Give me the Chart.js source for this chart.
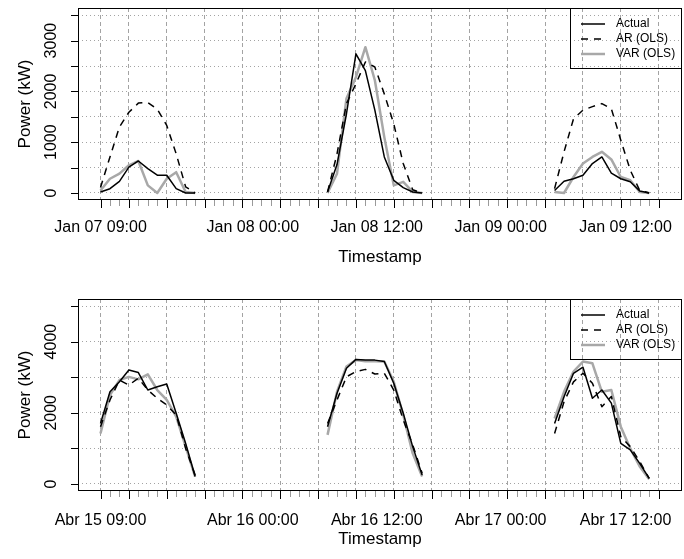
<!DOCTYPE html>
<html>
<head>
<meta charset="utf-8">
<script src="https://cdn.jsdelivr.net/npm/chart.js@4.4.1/dist/chart.umd.min.js"></script>
<style>
  body { margin: 0; background: #fff; }
  #wrap { position: relative; width: 684px; height: 559px; }
  canvas { position: absolute; left: 0; }
</style>
</head>
<body>
<div id="wrap">
  <canvas id="janChart" width="684" height="280" style="top:0px"></canvas>
  <canvas id="abrChart" width="684" height="279" style="top:280px"></canvas>
</div>
<script>
// hours counted from the first 09:00, every day sampled 09:00 - 19:00
var dayHours = [
    [0, 1, 2, 3, 4, 5, 6, 7, 8, 9, 10],
    [24, 25, 26, 27, 28, 29, 30, 31, 32, 33, 34],
    [48, 49, 50, 51, 52, 53, 54, 55, 56, 57, 58]
];

var seriesNames = ['Actual', 'AR (OLS)', 'VAR (OLS)'];

// january panel (kW)
var janActual = [
    [20, 85, 230, 510, 630, 480, 350, 350, 85, 0, 0],
    [20, 560, 1560, 2740, 2410, 1630, 710, 250, 105, 20, 0],
    [50, 230, 280, 350, 580, 710, 390, 280, 220, 40, 0]
];
var janAR = [
    [110, 710, 1300, 1590, 1770, 1780, 1650, 1330, 770, 120, 0],
    [20, 770, 1760, 2150, 2580, 2480, 1950, 1360, 580, 65, 0],
    [85, 810, 1460, 1630, 1700, 1760, 1660, 1040, 450, 50, 0]
];
var janVAR = [
    [50, 280, 380, 545, 630, 150, 0, 280, 410, 20, 0],
    [0, 380, 1860, 2280, 2870, 2220, 1100, 150, 220, 20, 0],
    [20, 0, 315, 580, 710, 810, 660, 315, 250, 20, 0]
];

// april panel (kW)
var abrActual = [
    [1700, 2590, 2870, 3200, 3130, 2640, 2730, 2810, 1990, 1140, 210],
    [1610, 2550, 3250, 3500, 3480, 3480, 3440, 2830, 1990, 1050, 250],
    [1700, 2450, 3110, 3280, 2410, 2640, 2270, 1140, 960, 580, 160]
];
var abrAR = [
    [1610, 2360, 2920, 2780, 2970, 2640, 2410, 2220, 1940, 1000, 250],
    [1700, 2360, 3010, 3160, 3220, 3090, 3110, 2640, 1800, 1100, 300],
    [1420, 2310, 2870, 3110, 2830, 2170, 2460, 1330, 1050, 630, 160]
];
var abrVAR = [
    [1420, 2500, 2920, 3010, 2940, 3080, 2640, 2360, 1890, 1050, 210],
    [1380, 2590, 3300, 3480, 3450, 3450, 3440, 2870, 1940, 860, 210],
    [1840, 2590, 3160, 3440, 3390, 2590, 2640, 1610, 1000, 490, 130]
];

// axis stuff
var majorHours = [0, 3, 7, 11, 15, 19, 23, 27, 31, 35, 39, 43, 47, 51, 55, 59];
var labelHours = [0, 16.1, 29.2, 42.3, 55.5];
var janLabels = ['Jan 07 09:00', 'Jan 08 00:00', 'Jan 08 12:00', 'Jan 09 00:00', 'Jan 09 12:00'];
var abrLabels = ['Abr 15 09:00', 'Abr 16 00:00', 'Abr 16 12:00', 'Abr 17 00:00', 'Abr 17 12:00'];
var janGrid = [0, 500, 1000, 1500, 2000, 2500, 3000, 3500];
var janTickLabels = [0, 1000, 2000, 3000];
var abrGrid = [0, 1000, 2000, 3000, 4000, 5000];
var abrTickLabels = [0, 2000, 4000];

var fontFam = '"Liberation Sans", Arial, Helvetica, sans-serif';

function toPoints(days) {
    var pts = [];
    days.forEach(function (vals, d) {
        if (d > 0) {
            // break the line over the night
            pts.push({ x: dayHours[d][0] - 7, y: null });
        }
        vals.forEach(function (v, i) {
            pts.push({ x: dayHours[d][i], y: v });
        });
    });
    return pts;
}

// draws box, ticks, labels, titles and legend the R way
var rAxes = {
    id: 'rAxes',
    afterDraw: function (chart, args, o) {
        var ctx = chart.ctx;
        var a = chart.chartArea;
        var xs = chart.scales.x;
        var ys = chart.scales.y;
        ctx.save();

        ctx.strokeStyle = '#000';
        ctx.lineWidth = 1;
        ctx.strokeRect(a.left + 0.5, a.top + 0.5, a.right - a.left - 1, a.bottom - a.top - 1);

        // hourly minor ticks
        ctx.strokeStyle = '#9a9a9a';
        for (var h = 0; h <= 59; h++) {
            if (majorHours.indexOf(h) >= 0) continue;
            var px = Math.round(xs.getPixelForValue(h)) + 0.5;
            ctx.beginPath();
            ctx.moveTo(px, a.bottom);
            ctx.lineTo(px, a.bottom + 6);
            ctx.stroke();
        }
        ctx.strokeStyle = '#000';
        majorHours.forEach(function (h) {
            var px = Math.round(xs.getPixelForValue(h)) + 0.5;
            ctx.beginPath();
            ctx.moveTo(px, a.bottom);
            ctx.lineTo(px, a.bottom + 8);
            ctx.stroke();
        });
        o.grid.forEach(function (v) {
            var py = Math.round(ys.getPixelForValue(v)) + 0.5;
            ctx.beginPath();
            ctx.moveTo(a.left, py);
            ctx.lineTo(a.left - 7, py);
            ctx.stroke();
        });

        ctx.fillStyle = '#000';
        ctx.font = '16px ' + fontFam;
        ctx.textAlign = 'center';
        ctx.textBaseline = 'middle';
        o.labels.forEach(function (t, i) {
            ctx.fillText(t, xs.getPixelForValue(labelHours[i]), a.bottom + o.labelOff);
        });
        o.tickLabels.forEach(function (v) {
            ctx.save();
            ctx.translate(52, ys.getPixelForValue(v));
            ctx.rotate(-Math.PI / 2);
            ctx.fillText(String(v), 0, 0);
            ctx.restore();
        });

        ctx.font = '17px ' + fontFam;
        ctx.fillText('Timestamp', (a.left + a.right) / 2, a.bottom + o.titleOff);
        ctx.save();
        ctx.translate(25, (a.top + a.bottom) / 2);
        ctx.rotate(-Math.PI / 2);
        ctx.fillText('Power (kW)', 0, 0);
        ctx.restore();

        // legend box, top right
        var bx = a.right - 112, by = a.top;
        ctx.strokeStyle = '#000';
        ctx.lineWidth = 1;
        ctx.strokeRect(bx + 0.5, by + 0.5, 111, 60);
        ctx.font = '12px ' + fontFam;
        ctx.textAlign = 'left';
        chart.data.datasets.forEach(function (ds, i) {
            var ly = by + 16 + i * 15;
            ctx.strokeStyle = ds.borderColor;
            ctx.lineWidth = ds.borderWidth;
            ctx.setLineDash(ds.borderDash || []);
            ctx.beginPath();
            ctx.moveTo(bx + 11, ly);
            ctx.lineTo(bx + 35, ly);
            ctx.stroke();
            ctx.setLineDash([]);
            ctx.fillStyle = '#000';
            ctx.fillText(ds.label, bx + 46, ly);
        });
        ctx.restore();
    }
};

function buildChart(id, actual, ar, vr, yMin, yMax, grid, tickLabels, labels, padTop, xHeight, labelOff, titleOff) {
    var c = document.getElementById(id).getContext('2d');
    return new Chart(c, {
        type: 'line',
        data: {
            datasets: [{
                label: seriesNames[0],
                data: toPoints(actual),
                borderColor: '#000000',
                borderWidth: 1.5,
                order: 1
            }, {
                label: seriesNames[1],
                data: toPoints(ar),
                borderColor: '#000000',
                borderWidth: 1.5,
                borderDash: [7, 6],
                order: 2
            }, {
                label: seriesNames[2],
                data: toPoints(vr),
                borderColor: '#a8a8a8',
                borderWidth: 2.5,
                order: 3
            }]
        },
        options: {
            responsive: false,
            animation: false,
            devicePixelRatio: 1,
            spanGaps: false,
            elements: {
                point: { radius: 0 },
                line: { tension: 0, fill: false, borderJoinStyle: 'round' }
            },
            layout: { padding: { left: 0, right: 2, top: padTop, bottom: 0 } },
            plugins: {
                legend: { display: false },
                tooltip: { enabled: false },
                rAxes: { grid: grid, tickLabels: tickLabels, labels: labels, labelOff: labelOff, titleOff: titleOff }
            },
            scales: {
                x: {
                    type: 'linear',
                    min: -2.38,
                    max: 61.47,
                    afterBuildTicks: function (s) {
                        s.ticks = majorHours.map(function (v) { return { value: v }; });
                    },
                    afterFit: function (s) { s.height = xHeight; },
                    ticks: { display: false },
                    grid: { color: '#a3a3a3', lineWidth: 1, drawTicks: false },
                    border: { display: false, dash: [4, 3] }
                },
                y: {
                    min: yMin,
                    max: yMax,
                    afterBuildTicks: function (s) {
                        s.ticks = grid.map(function (v) { return { value: v }; });
                    },
                    afterFit: function (s) { s.width = 78; },
                    ticks: { display: false },
                    grid: { color: '#a3a3a3', lineWidth: 1, drawTicks: false },
                    border: { display: false, dash: [1, 3] }
                }
            }
        },
        plugins: [rAxes]
    });
}

buildChart('janChart', janActual, janAR, janVAR, -138, 3642, janGrid, janTickLabels, janLabels, 8, 80, 28, 57);
buildChart('abrChart', abrActual, abrAR, abrVAR, -197, 5197, abrGrid, abrTickLabels, abrLabels, 19, 68, 30, 48);
</script>
</body>
</html>
